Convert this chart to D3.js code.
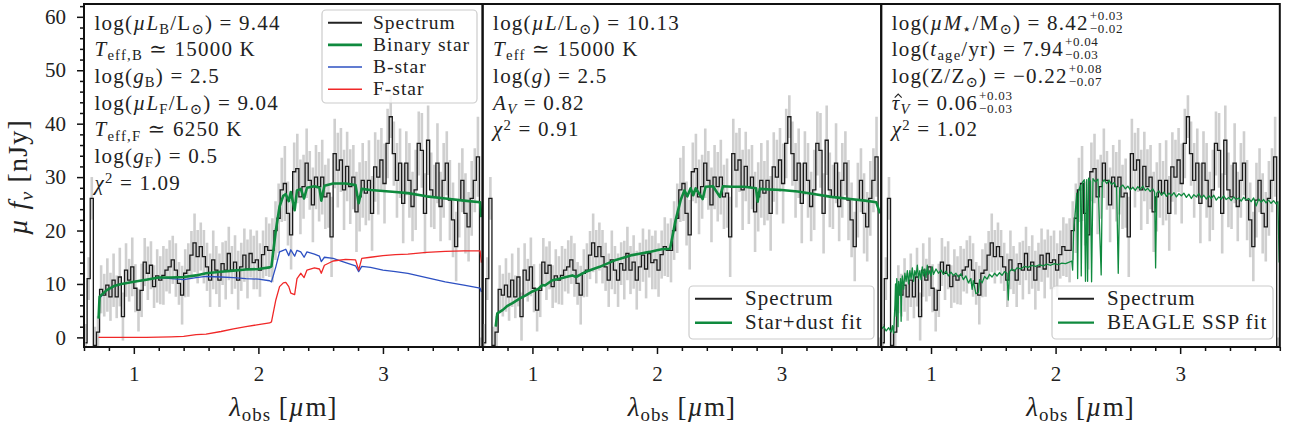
<!DOCTYPE html>
<html>
<head>
<meta charset="utf-8">
<script src="https://cdn.jsdelivr.net/npm/d3@7"></script>
<style>
  body { margin: 0; background: #fff; }
  svg { display: block; font-family: "Liberation Serif", "DejaVu Serif", serif; }
</style>
</head>
<body>
<svg id="chart" width="1289" height="431"></svg>
<script>
// observed spectrum, 0.025 um bins between 0.6 and 3.8 um
const specWave = d3.range(128).map(i => +(0.6125 + 0.025 * i).toFixed(4));
const specFlux = [
  -1, 11, 26, -1.5, 1, 9, 7.9, 9.8, 7.6, 10.7,
  7.6, 11.3, 3.9, 12.6, 10.7, 13.2, 9.2, 5.1, 8.8, 14.1,
  12, 13.5, 9.5, 11.5, 10.7, 11.6, 12.6, 13.2, 14.5, 12.6,
  10.1, 7.9, 12, 12.6, 15.4, 17.7, 15.1, 17, 15.1, 13.2,
  10.7, 14.5, 12.6, 10.7, 13.8, 12.6, 15.7, 12.6, 14.1, 10.7,
  13.2, 15.4, 12.8, 15.7, 14, 14.5, 12.6, 15.5, 17, 16.3,
  16.3, 20, 22.3, 27.6, 28.8, 23.2, 19.2, 31, 31.6, 26.3,
  28.2, 32.6, 29.4, 24.8, 30, 28.2, 30, 26.3, 27, 18.8,
  34.4, 31.3, 33.2, 27.6, 32, 28.2, 30, 23.5, 26.3, 29.4,
  27, 29.4, 23.2, 31.9, 30, 33.2, 28.8, 36.3, 41.3, 34.4,
  29.4, 32.6, 25.1, 32.6, 29.4, 24.5, 27.6, 36.3, 35, 23.2,
  36.9, 27.6, 26.3, 32.6, 24.5, 29.4, 32.6, 25.7, 22, 17,
  25.7, 29.4, 23.2, 20.7, 26, 29.4, 33.8, -3
];
const specErr = [
  3.5, 4, 4, 3.5, 3, 4.5, 4, 5, 4.5, 5,
  4, 5.5, 4.5, 5, 4, 5.5, 4.5, 4, 5, 4.5,
  5, 4.5, 4, 5, 4.5, 5.5, 4, 5, 4.5, 5,
  4, 5.5, 4.5, 5, 4.5, 5.5, 5, 4.5, 5, 4.5,
  5, 5.5, 4.5, 5, 4, 5.5, 5, 4.5, 5, 5.5,
  4.5, 5, 5.5, 4.5, 5, 5.5, 5, 4.5, 5.5, 5,
  6, 5.5, 6.5, 6, 7, 6, 6.5, 5.5, 6.5, 7,
  6, 6.5, 5.5, 7, 6, 6.5, 7, 6, 6.5, 7.5,
  6.5, 7, 6, 7.5, 6.5, 7, 6, 7.5, 6.5, 7,
  6, 7.5, 7, 6.5, 7, 6, 7.5, 6.5, 4, 6,
  7, 6.5, 7.5, 6, 7, 6.5, 7.5, 6, 7, 7.5,
  6.5, 7, 6, 7.5, 6.5, 7, 6, 7.5, 7, 6.5,
  7, 6, 7.5, 6.5, 7, 6, 7.5, 3
];

// panel 1: binary star model and its two components
const binWave = [0.717, 0.725, 0.78, 0.84, 0.9, 1.0, 1.1, 1.2, 1.3, 1.4, 1.5, 1.58, 1.7, 1.8, 1.9, 2.0, 2.09, 2.105,
  2.14, 2.17, 2.2, 2.22, 2.244, 2.26, 2.291, 2.31, 2.34, 2.367, 2.39, 2.45, 2.49, 2.505, 2.53, 2.6, 2.7, 2.78,
  2.805, 2.83, 2.9, 3.0, 3.1, 3.2, 3.35, 3.5, 3.65, 3.78, 3.79];
const binFlux = [3.5, 7.6, 8.8, 9.6, 10.0, 10.4, 10.8, 11.2, 11.2, 11.3, 11.6, 12.0, 12.3, 12.5, 12.7, 12.8, 13.1, 13.3,
  20, 24.5, 26.5, 26.8, 25.5, 27.2, 23.8, 27.5, 27.8, 26.0, 28.0, 28.3, 28.0, 25.6, 28.4, 28.8, 28.8, 28.5,
  25.1, 27.8, 27.6, 27.4, 27.2, 27.0, 26.4, 26.0, 25.6, 25.3, 22.5];
const bstarFlux = [4, 7.3, 8.8, 9.6, 10.0, 10.4, 10.8, 11.2, 11.0, 10.8, 11.2, 11.4, 11.3, 11.2, 11.0, 10.9, 10.6, 10.4,
  13.2, 16.0, 16.3, 16.5, 15.3, 16.4, 15.2, 16.3, 16.0, 15.0, 16.0, 15.6, 15.2, 14.2, 15.0, 14.8, 14.0, 13.4,
  12.3, 13.3, 13.1, 12.6, 12.3, 12.0, 11.2, 10.4, 9.8, 9.2, 8.5];
const fstarFlux = [0, 0, 0, 0, 0, 0, 0, 0.05, 0.1, 0.2, 0.5, 0.6, 1.1, 1.6, 2.0, 2.4, 2.7, 2.9,
  7.0, 9.5, 10.2, 10.3, 9.5, 8.3, 8.0, 11.0, 12.0, 11.2, 12.6, 13.0, 12.8, 12.0, 13.5, 14.3, 14.6, 14.5,
  12.6, 14.8, 15.0, 15.3, 15.5, 15.6, 15.9, 16.1, 16.2, 16.2, 14.0];

// panel 2: single star + dust fit
const dustWave = [0.705, 0.718, 0.76, 0.8, 0.84, 0.9, 0.95, 1.0, 1.05, 1.08, 1.1, 1.16, 1.2, 1.27, 1.32, 1.35, 1.43, 1.5,
  1.54, 1.6, 1.67, 1.73, 1.8, 1.87, 1.94, 2.0, 2.04, 2.105, 2.15, 2.19, 2.22, 2.244, 2.27, 2.291, 2.31, 2.367,
  2.39, 2.45, 2.505, 2.53, 2.6, 2.7, 2.795, 2.808, 2.825, 2.89, 3.0, 3.13, 3.27, 3.4, 3.55, 3.67, 3.76, 3.79];
const dustFlux = [2.0, 4.5, 5.1, 5.9, 6.4, 7.3, 7.9, 8.6, 9.1, 9.8, 9.7, 10.7, 10.9, 11.3, 11.6, 11.3, 12.3, 12.9,
  13.2, 13.8, 14.5, 14.9, 15.4, 15.7, 16.0, 16.3, 16.5, 16.6, 22, 25.7, 27.5, 26.4, 27.9, 26.6, 27.9, 25.9,
  28.2, 28.3, 26.3, 28.3, 28.2, 28.2, 27.9, 25.4, 27.8, 27.7, 27.6, 27.3, 26.8, 26.3, 25.9, 25.6, 25.3, 23.2];

// panel 3: BEAGLE SSP fit (high resolution, with absorption lines)
const ssfWave = [0.6, 0.62, 0.64, 0.66, 0.68, 0.69, 0.7, 0.71, 0.715, 0.72, 0.725, 0.73, 0.735, 0.74, 0.75, 0.755,
  0.76, 0.765, 0.77, 0.78, 0.79, 0.8, 0.81, 0.82, 0.83, 0.84, 0.85, 0.86, 0.87, 0.88, 0.89, 0.9, 0.91, 0.92,
  0.93, 0.94, 0.95, 0.96, 0.97, 0.98, 0.99, 1.0, 1.01, 1.02, 1.04, 1.06, 1.08, 1.1, 1.12, 1.14, 1.16, 1.18,
  1.2, 1.22, 1.24, 1.26, 1.28, 1.3, 1.32, 1.33, 1.34, 1.36, 1.38, 1.39, 1.41, 1.43, 1.45, 1.47, 1.49, 1.51,
  1.53, 1.55, 1.57, 1.59, 1.61, 1.62, 1.63, 1.65, 1.67, 1.69, 1.72, 1.75, 1.78, 1.81, 1.84, 1.87, 1.9, 1.93,
  1.96, 1.99, 2.02, 2.05, 2.08, 2.11, 2.13, 2.137, 2.145, 2.16, 2.17, 2.177, 2.185, 2.2, 2.206, 2.215, 2.23,
  2.24, 2.25, 2.257, 2.265, 2.28, 2.289, 2.3, 2.32, 2.34, 2.366, 2.375, 2.39, 2.41, 2.43, 2.45, 2.47, 2.49,
  2.503, 2.515, 2.54, 2.56, 2.58, 2.6, 2.62, 2.64, 2.66, 2.68, 2.7, 2.72, 2.74, 2.76, 2.78, 2.795, 2.803,
  2.812, 2.83, 2.85, 2.87, 2.89, 2.91, 2.93, 2.95, 2.97, 2.99, 3.01, 3.03, 3.05, 3.07, 3.09, 3.11, 3.13,
  3.15, 3.17, 3.19, 3.21, 3.23, 3.25, 3.27, 3.29, 3.31, 3.33, 3.35, 3.37, 3.39, 3.41, 3.43, 3.45, 3.47,
  3.49, 3.51, 3.53, 3.55, 3.57, 3.59, 3.61, 3.63, 3.65, 3.67, 3.69, 3.71, 3.73, 3.75, 3.77, 3.785, 3.795];
const ssfFlux = [1.5, 2.0, 1.2, 1.8, 1.0, 2.2, 0.8, 6, 10, 4, 11, 9, 2, 10.5, 8, 11,
  3, 10, 11.5, 9, 12, 10.5, 12.5, 10, 12.5, 11, 13, 10.5, 12.5, 11.5, 13.5, 11, 12.5, 10.8,
  13.2, 11.5, 12.8, 11.2, 13.5, 11.8, 12.5, 11.5, 13.2, 11.8, 12.8, 12.0, 12.6, 11.8, 12.4, 11.5, 12.2, 11.6,
  12.0, 11.3, 11.9, 10.8, 11.5, 10.2, 11.0, 9.0, 10.6, 8.2, 8.4, 10.8, 10.2, 11.4, 10.9, 11.8, 11.3, 12.0,
  11.5, 12.1, 11.6, 12.3, 12.0, 7.0, 12.3, 12.8, 12.4, 13.0, 12.8, 13.3, 13.1, 13.5, 13.3, 13.6, 13.4, 13.7,
  13.5, 13.8, 13.6, 13.9, 13.8, 14.1, 14.3, 12.6, 20, 24, 27, 11, 27.5, 28.5, 11.5, 29, 29.5,
  10.5, 29.5, 10.5, 29.8, 29.2, 10.4, 29.7, 29.1, 29.6, 11.7, 29.0, 29.5, 28.8, 29.4, 28.6, 29.0, 28.0,
  12, 28.0, 28.5, 27.8, 28.3, 27.6, 28.1, 27.5, 28.2, 27.7, 28.3, 27.5, 27.9, 27.3, 27.8, 27.2, 13,
  27.0, 27.4, 26.6, 27.2, 26.4, 27.0, 26.5, 27.1, 26.3, 26.9, 26.5, 27.0, 26.2, 26.8, 26.0, 26.7, 26.3,
  26.9, 26.1, 26.6, 25.9, 26.5, 26.0, 26.6, 25.7, 26.3, 25.9, 26.5, 25.8, 26.2, 25.6, 26.3, 25.8, 26.1,
  25.5, 26.2, 25.7, 26.0, 25.4, 26.1, 24.6, 25.9, 25.3, 25.8, 25.2, 25.7, 25.1, 25.6, 25.0, 25.4, 14];

const xTicks = [1, 2, 3];
const xMinor = [0.6, 0.8, 1.2, 1.4, 1.6, 1.8, 2.2, 2.4, 2.6, 2.8, 3.2, 3.4, 3.6, 3.8];
const yTicks = [0, 10, 20, 30, 40, 50, 60];
const yMinor = [2, 4, 6, 8, 12, 14, 16, 18, 22, 24, 26, 28, 32, 34, 36, 38, 42, 44, 46, 48, 52, 54, 56, 58, 62];

const green = "#0f8a3e", blue = "#2d50c2", red = "#f02828", grey = "#cfcfcf";

const svg = d3.select("#chart");
const panelW = 398.6, plotLeft = 84, plotTop = 4, plotBottom = 347;

const y = d3.scaleLinear().domain([-1.8, 62.4]).range([plotBottom, plotTop]);

// text with italic / sub / superscript pieces
function rich(g, x, yy, segs, fs, ls) {
  const t = g.append("text").attr("x", x).attr("y", yy).attr("font-size", fs).attr("fill", "#222")
    .attr("letter-spacing", ls || 0);
  let off = 0;
  segs.forEach(([str, st]) => {
    const sub = st.includes("b"), sup = st.includes("p");
    const target = sub ? 0.2 * fs : sup ? -0.3 * fs : 0;
    t.append("tspan")
      .attr("dy", target - off)
      .attr("font-size", (sub || sup) ? 0.7 * fs : fs)
      .attr("font-style", st.includes("i") ? "italic" : null)
      .text(str);
    off = target;
  });
  return t;
}

const panels = [
  {
    models: [
      {w: binWave, f: bstarFlux, color: blue, width: 1.3},
      {w: binWave, f: fstarFlux, color: red, width: 1.3},
      {w: binWave, f: binFlux, color: green, width: 2.6}
    ],
    legend: {x: 322, y: 10, w: 155, h: 93, fs: 19.5, row: 22.2, line: [6, 40], text: 51,
      items: [["Spectrum", "#222", 2], ["Binary star", green, 2.6], ["B-star", blue, 1.5], ["F-star", red, 1.5]]},
    notes: [
      {segs: [["log(", ""], ["µL", "i"], ["B", "b"], ["/L", ""], ["⊙", "b"], [") = 9.44", ""]]},
      {segs: [["T", "i"], ["eff,B", "b"], [" ≃ 15000 K", ""]]},
      {segs: [["log(", ""], ["g", "i"], ["B", "b"], [") = 2.5", ""]]},
      {segs: [["log(", ""], ["µL", "i"], ["F", "b"], ["/L", ""], ["⊙", "b"], [") = 9.04", ""]]},
      {segs: [["T", "i"], ["eff,F", "b"], [" ≃ 6250 K", ""]]},
      {segs: [["log(", ""], ["g", "i"], ["F", "b"], [") = 0.5", ""]]},
      {segs: [["χ", "i"], ["2", "p"], [" = 1.09", ""]]}
    ]
  },
  {
    models: [{w: dustWave, f: dustFlux, color: green, width: 2.6}],
    legend: {x: 689, y: 286, w: 185, h: 53, fs: 21, row: 24, line: [6, 43], text: 56,
      items: [["Spectrum", "#222", 2], ["Star+dust fit", green, 2.6]]},
    notes: [
      {segs: [["log(", ""], ["µL", "i"], ["/L", ""], ["⊙", "b"], [") = 10.13", ""]]},
      {segs: [["T", "i"], ["eff", "b"], [" ≃ 15000 K", ""]]},
      {segs: [["log(", ""], ["g", "i"], [") = 2.5", ""]]},
      {segs: [["A", "i"], ["V", "bi"], [" = 0.82", ""]]},
      {segs: [["χ", "i"], ["2", "p"], [" = 0.91", ""]]}
    ]
  },
  {
    models: [{w: ssfWave, f: ssfFlux, color: green, width: 1.3}],
    legend: {x: 1052, y: 286, w: 221, h: 53, fs: 21, row: 24, line: [6, 42], text: 55,
      items: [["Spectrum", "#222", 2], ["BEAGLE SSP fit", green, 2.2]]},
    notes: [
      {segs: [["log(", ""], ["µM", "i"], ["⋆", "b"], ["/M", ""], ["⊙", "b"], [") = 8.42", ""]], pm: ["+0.03", "−0.02"]},
      {segs: [["log(", ""], ["t", "i"], ["age", "b"], ["/yr) = 7.94", ""]], pm: ["+0.04", "−0.03"]},
      {segs: [["log(Z/Z", ""], ["⊙", "b"], [") = −0.22", ""]], pm: ["+0.08", "−0.07"]},
      {segs: [["τ", "i"], ["V", "bi"], [" = 0.06", ""]], pm: ["+0.03", "−0.03"], hat: true},
      {segs: [["χ", "i"], ["2", "p"], [" = 1.02", ""]]}
    ]
  }
];

const spec = specWave.map((w, i) => ({w: w, f: specFlux[i], e: specErr[i]}));

panels.forEach((p, pi) => {
  const x0 = plotLeft + pi * panelW;
  const x = d3.scaleLinear().domain([0.6, 3.8]).range([x0, x0 + panelW]);
  const g = svg.append("g");

  svg.append("clipPath").attr("id", "clip" + pi)
    .append("rect").attr("x", x0).attr("y", plotTop).attr("width", panelW).attr("height", plotBottom - plotTop);
  const plot = g.append("g").attr("clip-path", `url(#clip${pi})`);

  // error bars
  plot.append("g").selectAll("line")
    .data(spec)
    .join("line")
      .attr("x1", d => x(d.w)).attr("x2", d => x(d.w))
      .attr("y1", d => y(d.f - d.e)).attr("y2", d => y(d.f + d.e))
      .attr("stroke", grey).attr("stroke-width", 2.6);

  // observed spectrum, steps
  const step = d3.line().curve(d3.curveStep).x(d => x(d.w)).y(d => y(d.f));
  plot.append("path").datum(spec)
    .attr("d", step)
    .attr("fill", "none").attr("stroke", "#1a1a1a").attr("stroke-width", 1.3);

  // models
  p.models.forEach(m => {
    const pts = m.w.map((w, i) => [x(w), y(m.f[i])]);
    plot.append("path").datum(pts)
      .attr("d", d3.line())
      .attr("fill", "none").attr("stroke", m.color)
      .attr("stroke-width", m.width).attr("stroke-linejoin", "round");
  });

  // axes
  const gx = g.append("g").attr("transform", `translate(0,${plotBottom})`);
  gx.call(d3.axisBottom(x).tickValues(xTicks).tickSize(7).tickPadding(12).tickFormat(d3.format("d")));
  gx.append("g").call(d3.axisBottom(x).tickValues(xMinor).tickSize(4).tickFormat(""));
  gx.selectAll(".domain").remove();
  gx.selectAll(".tick line").attr("stroke", "#111").attr("stroke-width", 1.5);
  gx.selectAll(".tick text").attr("font-size", 21).attr("fill", "#222")
    .attr("font-family", "Liberation Serif, DejaVu Serif, serif");

  if (pi === 0) {
    const gy = g.append("g").attr("transform", `translate(${x0},0)`);
    gy.call(d3.axisLeft(y).tickValues(yTicks).tickSize(7).tickPadding(11));
    gy.append("g").call(d3.axisLeft(y).tickValues(yMinor).tickSize(4).tickFormat(""));
    gy.selectAll(".domain").remove();
    gy.selectAll(".tick line").attr("stroke", "#111").attr("stroke-width", 1.5);
    gy.selectAll(".tick text").attr("font-size", 21).attr("fill", "#222")
      .attr("font-family", "Liberation Serif, DejaVu Serif, serif");
  }

  // x label
  const xl = rich(g, x0 + panelW / 2, 416, [["λ", "i"], ["obs", "b"], [" [", ""], ["µ", "i"], ["m]", ""]], 27, 1);
  xl.attr("text-anchor", "middle");

  // annotations
  p.notes.forEach((n, i) => {
    const ty = 29.5 + i * 26.7;
    const tx = x0 + 10.5;
    const t = rich(g, tx, ty, n.segs, 21, 1.2);
    if (n.hat) {
      g.append("path")
        .attr("d", `M${tx + 3},${ty - 12}L${tx + 6.5},${ty - 15.5}L${tx + 10},${ty - 12}`)
        .attr("fill", "none").attr("stroke", "#222").attr("stroke-width", 1.1);
    }
    if (n.pm) {
      const bb = t.node().getBBox();
      const px = bb.x + bb.width + 1;
      g.append("text").attr("x", px).attr("y", ty - 10).attr("font-size", 13).attr("fill", "#222")
        .attr("letter-spacing", 0.7).text(n.pm[0]);
      g.append("text").attr("x", px).attr("y", ty + 3).attr("font-size", 13).attr("fill", "#222")
        .attr("letter-spacing", 0.7).text(n.pm[1]);
    }
  });

  // legend
  const L = p.legend;
  const lg = g.append("g");
  lg.append("rect").attr("x", L.x).attr("y", L.y).attr("width", L.w).attr("height", L.h)
    .attr("rx", 4).attr("fill", "#fff").attr("fill-opacity", 0.8)
    .attr("stroke", "#cccccc").attr("stroke-width", 1.2);
  L.items.forEach(([label, color, w], i) => {
    const cy = L.y + 12.7 + i * L.row;
    lg.append("line").attr("x1", L.x + L.line[0]).attr("x2", L.x + L.line[1])
      .attr("y1", cy).attr("y2", cy).attr("stroke", color).attr("stroke-width", w);
    lg.append("text").attr("x", L.x + L.text).attr("y", cy + 0.3 * L.fs)
      .attr("font-size", L.fs).attr("letter-spacing", 1).attr("fill", "#222").text(label);
  });

  // frame
  g.append("rect").attr("x", x0).attr("y", plotTop).attr("width", panelW).attr("height", plotBottom - plotTop)
    .attr("fill", "none").attr("stroke", "#111").attr("stroke-width", 2);
});

// y label
rich(svg.append("g").attr("transform", "translate(27,177) rotate(-90)"), 0, 0,
  [["µ f", "i"], ["ν", "bi"], [" [nJy]", ""]], 28, 1.2).attr("text-anchor", "middle");
</script>
</body>
</html>
